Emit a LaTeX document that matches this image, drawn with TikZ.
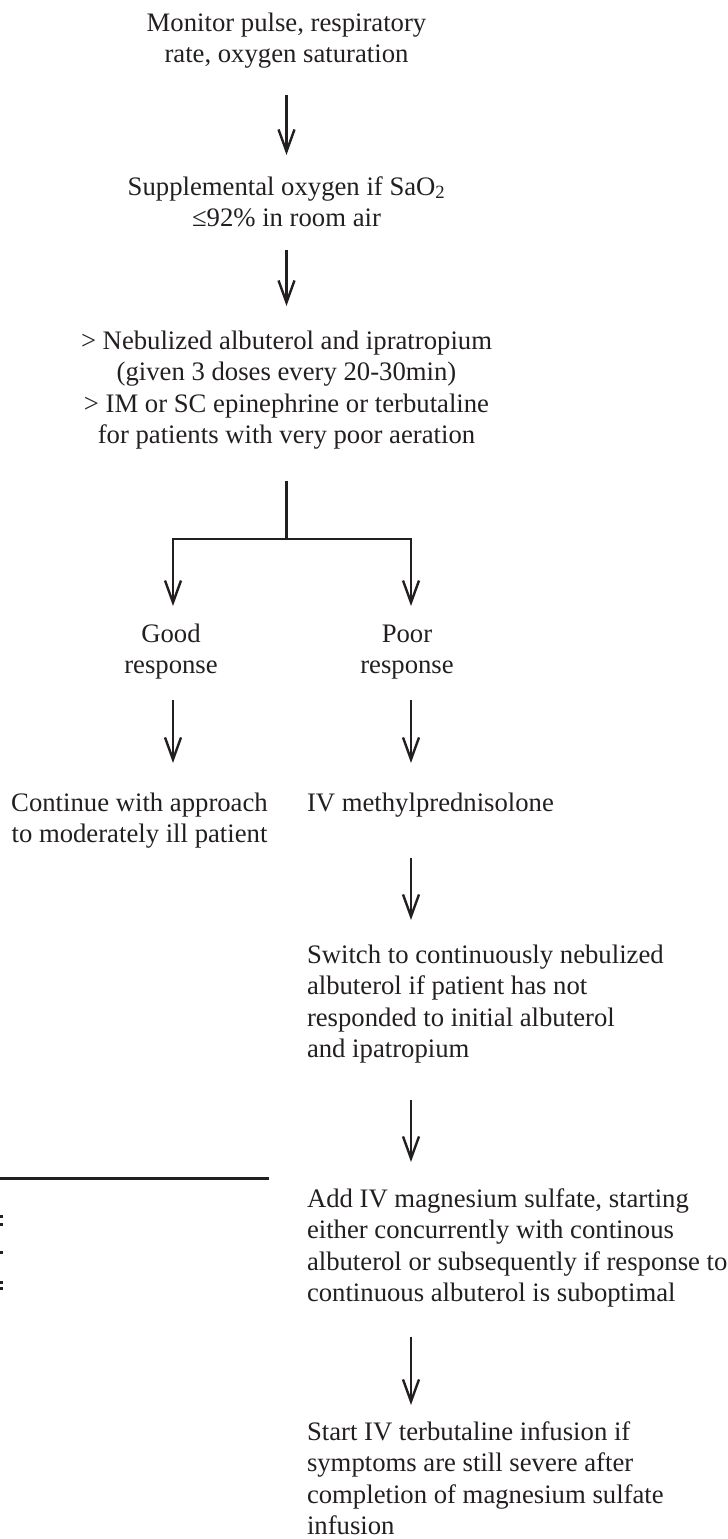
\documentclass[tikz,border=0pt]{standalone}
\usepackage{fontspec}
\setmainfont{Liberation Serif}
\usetikzlibrary{arrows.meta}
\definecolor{ink}{HTML}{231F20}
\begin{document}
\begin{tikzpicture}[x=1pt,y=-1pt,
  txt/.style={inner sep=0pt, outer sep=0pt, text=ink, font=\fontsize{26.7}{31.5}\selectfont},
  ctxt/.style={txt, align=center, anchor=north},
  ltxt/.style={txt, align=left, anchor=north west},
  conn/.style={draw=ink, line width=2.4pt},
  arr/.style={conn, -{Straight Barb[length=22pt,width=16pt]}},
  rule/.style={draw=ink, line width=3pt},
  speck/.style={fill=ink}
]
\useasboundingbox (0,0) rectangle (728,1539);

\node[ctxt] (n1) at (286.5,8.95) {\strut Monitor pulse, respiratory\\rate, oxygen saturation\strut};
\node[ctxt] (n2) at (286.5,172.95) {\strut Supplemental oxygen if SaO\textsubscript{2}\\≤92\% in room air\strut};
\node[ctxt] (n3) at (286.5,326.95) {\strut > Nebulized albuterol and ipratropium\\(given 3 doses every 20-30min)\\> IM or SC epinephrine or terbutaline\\for patients with very poor aeration\strut};

\coordinate (br) at (286.5,539);
\coordinate (gl) at (173,539);
\coordinate (pr) at (411,539);

\node[ctxt] (good) at (171,620.05) {\strut Good\\response\strut};
\node[ctxt] (poor) at (407,620.05) {\strut Poor\\response\strut};
\node[ctxt] (cont) at (139.5,788.95) {\strut Continue with approach\\to moderately ill patient\strut};
\node[ltxt] (meth) at (307,788.95) {\strut IV methylprednisolone\strut};
\node[ltxt] (sw) at (307,940.95) {\strut Switch to continuously nebulized\\albuterol if patient has not\\responded to initial albuterol\\and ipatropium\strut};
\node[ltxt] (mg) at (307,1184.95) {\strut Add IV magnesium sulfate, starting\\either concurrently with continous\\albuterol or subsequently if response to\\continuous albuterol is suboptimal\strut};
\node[ltxt] (terb) at (307,1417.95) {\strut Start IV terbutaline infusion if\\symptoms are still severe after\\completion of magnesium sulfate\\infusion\strut};

\draw[arr, shorten <=23pt, shorten >=18pt] (n1.south) -- (n1.south |- n2.north);
\draw[arr, shorten <=14pt, shorten >=21pt] (n2.south) -- (n2.south |- n3.north);
\draw[conn, shorten <=28pt] (n3.south) -- (br);
\draw[arr, shorten >=14pt] (br) -| (gl |- good.north);
\draw[arr, shorten >=14pt] (br) -| (pr |- poor.north);
\draw[arr, shorten <=17pt, shorten >=26pt] (gl |- good.south) -- (gl |- cont.north);
\draw[arr, shorten <=17pt, shorten >=26pt] (pr |- poor.south) -- (pr |- meth.north);
\draw[arr, shorten <=37.5pt, shorten >=21pt] (pr |- meth.south) -- (pr |- sw.north);
\draw[arr, shorten <=33pt, shorten >=23pt] (pr |- sw.south) -- (pr |- mg.north);
\draw[arr, shorten <=26pt, shorten >=13pt] (pr |- mg.south) -- (pr |- terb.north);

\coordinate (ll) at (0,1178);
\coordinate (lr) at (269,1178);
\draw[rule] (ll) -- (lr);
\fill[speck] (0,1215) rectangle (2.5,1217.5);
\fill[speck] (0,1223) rectangle (2.5,1225.5);
\fill[speck] (0,1251) rectangle (2.5,1253.5);
\fill[speck] (0,1281) rectangle (2.5,1283.5);
\fill[speck] (0,1287) rectangle (2.5,1289.5);
\end{tikzpicture}
\end{document}
